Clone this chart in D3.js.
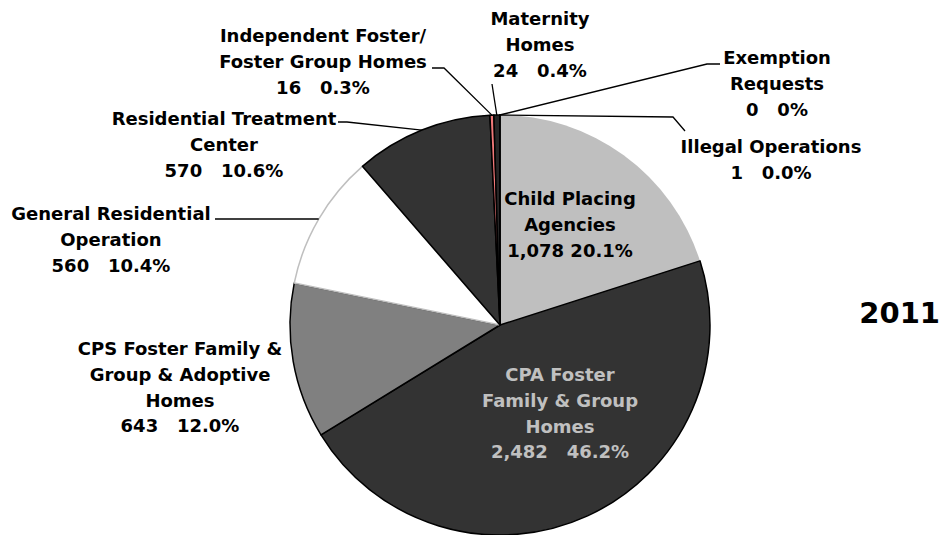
<!DOCTYPE html>
<html>
<head>
<meta charset="utf-8">
<script src="https://cdn.jsdelivr.net/npm/d3@7"></script>
<style>
  body { margin: 0; background: #fff; }
  text { font-family: "DejaVu Sans", sans-serif; font-weight: bold; }
</style>
</head>
<body>
<div id="chart"></div>
<script>
// Data (clockwise from 12 o'clock)
const categories = [
  ["Child Placing", "Agencies"],
  ["CPA Foster", "Family & Group", "Homes"],
  ["CPS Foster Family &", "Group & Adoptive", "Homes"],
  ["General Residential", "Operation"],
  ["Residential Treatment", "Center"],
  ["Independent Foster/", "Foster Group Homes"],
  ["Maternity", "Homes"],
  ["Exemption", "Requests"],
  ["Illegal Operations"]
];
const values = [1078, 2482, 643, 560, 570, 16, 24, 0, 1];
const year = "2011";

// Styles
const fills   = ["#bfbfbf", "#333333", "#808080", "#ffffff", "#333333", "#f07878", "#262626", "#333333", "#2e5c9a"];
const strokes = ["none", "#000", "#000", "#bfbfbf", "#000", "#000", "#000", "#000", "#000"];
const textColors = ["#000", "#c0c0c0", "#000", "#000", "#000", "#000", "#000", "#000", "#000"];

// Label layout: centre x, first baseline, leader elbows (label side)
const labelLayout = [
  {x: 570, y: 205, sep: " "},
  {x: 560, y: 381},
  {x: 180, y: 355},
  {x: 111, y: 220, leader: [[215, 219]]},
  {x: 224, y: 125, leader: [[347, 122], [338, 122]]},
  {x: 323, y: 42,  leader: [[444, 68], [432, 68]]},
  {x: 540, y: 25,  leader: [[492, 84]]},
  {x: 777, y: 64,  leader: [[707, 64], [720, 64]]},
  {x: 771, y: 153, leader: [[673, 117], [685, 131]]}
];

const width = 946, height = 535;
const cx = 500, cy = 325, radius = 210;
const lineHeight = 25.8;

const total = d3.sum(values);
const fmtNum = d3.format(",");
const fmtPct = function(v) {
  if (v === 0) return "0%";
  return d3.format(".1%")(v / total);
};

const svg = d3.select("#chart")
  .append("svg")
  .attr("width", width)
  .attr("height", height);

const g = svg.append("g")
  .attr("transform", "translate(" + cx + "," + cy + ")");

const pie = d3.pie().sort(null).value(function(d) { return d; });
const arcs = pie(values);
const arc = d3.arc().innerRadius(0).outerRadius(radius);

g.selectAll("path.slice")
  .data(arcs)
  .enter()
  .append("path")
  .attr("class", "slice")
  .attr("d", arc)
  .attr("fill", function(d, i) { return fills[i]; })
  .attr("stroke", function(d, i) { return strokes[i]; })
  .attr("stroke-width", 1.5)
  .attr("stroke-linejoin", "round");

// Leader lines
const line = d3.line();
arcs.forEach(function(d, i) {
  const lay = labelLayout[i];
  if (!lay.leader) return;
  const mid = (d.startAngle + d.endAngle) / 2;
  const p0 = [cx + radius * Math.sin(mid), cy - radius * Math.cos(mid)];
  svg.append("path")
    .attr("d", line([p0].concat(lay.leader)))
    .attr("fill", "none")
    .attr("stroke", "#000")
    .attr("stroke-width", 1.3);
});

// Labels
arcs.forEach(function(d, i) {
  const lay = labelLayout[i];
  const sep = lay.sep || "\u00a0\u00a0\u00a0";
  const lines = categories[i].concat([fmtNum(values[i]) + sep + fmtPct(values[i])]);
  const t = svg.append("text")
    .attr("text-anchor", "middle")
    .attr("fill", textColors[i])
    .style("font-size", "18px");
  lines.forEach(function(s, k) {
    t.append("tspan")
      .attr("x", lay.x)
      .attr("y", lay.y + k * lineHeight)
      .text(s);
  });
});

svg.append("text")
  .attr("x", 940)
  .attr("y", 323)
  .attr("text-anchor", "end")
  .style("font-size", "29px")
  .attr("fill", "#000")
  .text(year);
</script>
</body>
</html>
